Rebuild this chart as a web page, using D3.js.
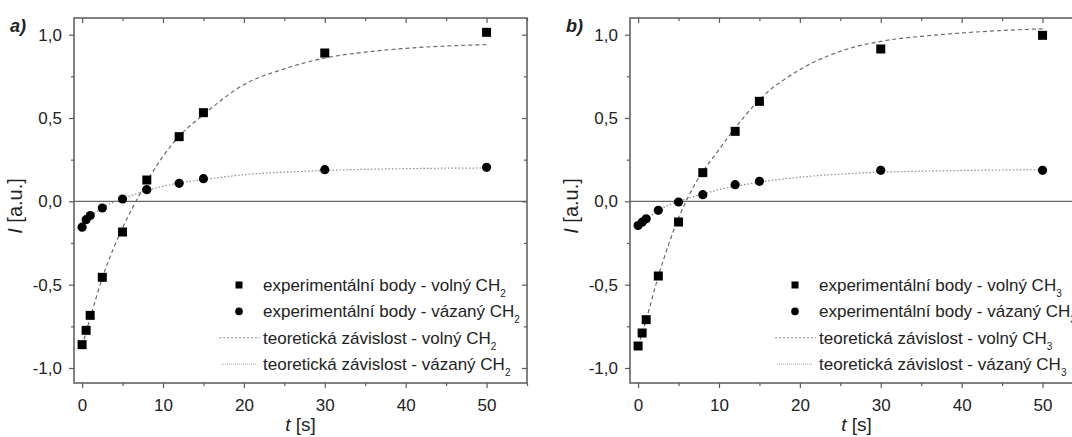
<!DOCTYPE html>
<html><head><meta charset="utf-8">
<script src="https://cdn.jsdelivr.net/npm/d3@7"></script>
<style>
html,body{margin:0;padding:0;background:#fff;}
svg text{font-family:"Liberation Sans",Arial,sans-serif;fill:#222;}
</style></head>
<body><svg id="c" width="1072" height="437"></svg>
<script>
// ---- data ----
const times = [0, 0.5, 1, 2.5, 5, 8, 12, 15, 30, 50];
const freeA  = [-0.86, -0.774, -0.684, -0.456, -0.184, 0.128, 0.388, 0.532, 0.89, 1.014];
const boundA = [-0.155, -0.11, -0.085, -0.04, 0.014, 0.07, 0.108, 0.136, 0.19, 0.204];
const freeB  = [-0.868, -0.79, -0.71, -0.448, -0.124, 0.172, 0.42, 0.60, 0.914, 0.996];
const boundB = [-0.145, -0.125, -0.105, -0.054, -0.004, 0.04, 0.10, 0.12, 0.186, 0.186];

const curveT = [0, 1, 2.5, 5, 7, 10, 12, 15, 20, 25, 30, 35, 40, 45, 50];
const theoFreeA  = [-0.87, -0.70, -0.46, -0.16, 0.03, 0.27, 0.39, 0.52, 0.70, 0.795, 0.86, 0.895, 0.918, 0.932, 0.94];
const theoBoundA = [-0.15, -0.095, -0.04, 0.015, 0.05, 0.09, 0.11, 0.13, 0.16, 0.175, 0.185, 0.192, 0.196, 0.199, 0.2];
const theoFreeB  = [-0.87, -0.71, -0.45, -0.10, 0.10, 0.31, 0.44, 0.61, 0.79, 0.90, 0.96, 0.99, 1.01, 1.025, 1.035];
const theoBoundB = [-0.15, -0.11, -0.055, 0.0, 0.03, 0.07, 0.09, 0.115, 0.145, 0.163, 0.175, 0.181, 0.185, 0.188, 0.19];

const xMajor = [0, 10, 20, 30, 40, 50];
const xMinor = [5, 15, 25, 35, 45, 55];
const yMajor = [-1, -0.5, 0, 0.5, 1];
const yMinor = [-0.75, -0.25, 0.25, 0.75];

const legendA = ["experimentální body - volný CH", "experimentální body - vázaný CH",
                 "teoretická závislost - volný CH", "teoretická závislost - vázaný CH"];
const subA = "2", subB = "3";
const panelLabels = ["a)", "b)"];

// ---- drawing ----
const svg = d3.select("#c");
const W = 453, H = 365, TOP = 18;
const axisCol = "#5a5a5a";
const fmt = v => d3.format(".1f")(v).replace(".", ",").replace("−", "-");

function panel(left, label, free, bound, theoFree, theoBound, sub) {
  const g = svg.append("g").attr("transform", `translate(${left},${TOP})`);
  const x = d3.scaleLinear().domain([-1, 55]).range([0, W]);
  const y = d3.scaleLinear().domain([-1.09, 1.1]).range([H, 0]);

  // zero line
  g.append("line").attr("x1", 0).attr("x2", W).attr("y1", y(0)).attr("y2", y(0))
    .attr("stroke", "#666").attr("stroke-width", 1.3);

  // axes
  const styleAxis = sel => { sel.select(".domain").remove(); sel.selectAll("line").attr("stroke", axisCol).attr("stroke-width", 1.2); };
  const bx = g.append("g").attr("transform", `translate(0,${H})`)
    .call(d3.axisBottom(x).tickValues(xMajor).tickSize(5).tickPadding(11).tickFormat(d3.format("d")));
  styleAxis(bx); bx.selectAll("text").attr("font-size", 17).attr("fill", "#222");
  const bxm = g.append("g").attr("transform", `translate(0,${H})`)
    .call(d3.axisBottom(x).tickValues(xMinor).tickSize(3).tickFormat(""));
  styleAxis(bxm);
  const tx = g.append("g").call(d3.axisBottom(x).tickValues(xMajor).tickSize(5).tickFormat(""));
  styleAxis(tx);
  const txm = g.append("g").call(d3.axisBottom(x).tickValues(xMinor).tickSize(3).tickFormat(""));
  styleAxis(txm);

  const ly = g.append("g").call(d3.axisLeft(y).tickValues(yMajor).tickSize(5).tickPadding(7).tickFormat(fmt));
  styleAxis(ly); ly.selectAll("text").attr("font-size", 17).attr("fill", "#222");
  const lym = g.append("g").call(d3.axisLeft(y).tickValues(yMinor).tickSize(3).tickFormat(""));
  styleAxis(lym);
  const ry = g.append("g").attr("transform", `translate(${W},0)`).call(d3.axisLeft(y).tickValues(yMajor).tickSize(5).tickFormat(""));
  styleAxis(ry);
  const rym = g.append("g").attr("transform", `translate(${W},0)`).call(d3.axisLeft(y).tickValues(yMinor).tickSize(3).tickFormat(""));
  styleAxis(rym);

  // frame
  g.append("rect").attr("width", W).attr("height", H).attr("fill", "none")
    .attr("stroke", axisCol).attr("stroke-width", 1.5);

  // theory curves
  const line = d3.line().x((d, i) => x(curveT[i])).y(d => y(d)).curve(d3.curveMonotoneX);
  g.append("path").attr("d", line(theoFree)).attr("fill", "none")
    .attr("stroke", "#6a6a6a").attr("stroke-width", 1.2).attr("stroke-dasharray", "4,3");
  g.append("path").attr("d", line(theoBound)).attr("fill", "none")
    .attr("stroke", "#8a8a8a").attr("stroke-width", 1.2).attr("stroke-dasharray", "1.5,2");

  // points
  const s = 9;
  g.selectAll(".sq").data(free).join("rect")
    .attr("x", (d, i) => x(times[i]) - s / 2).attr("y", d => y(d) - s / 2)
    .attr("width", s).attr("height", s).attr("fill", "#000");
  g.selectAll(".ci").data(bound).join("circle")
    .attr("cx", (d, i) => x(times[i])).attr("cy", d => y(d)).attr("r", 4.6).attr("fill", "#000");

  // axis titles
  const xt = g.append("text").attr("x", W / 2).attr("y", H + 48).attr("text-anchor", "middle").attr("font-size", 19);
  xt.append("tspan").attr("font-style", "italic").text("t");
  xt.append("tspan").text(" [s]");
  const yt = g.append("text").attr("transform", `translate(${-52},${188}) rotate(-90)`)
    .attr("text-anchor", "middle").attr("font-size", 20);
  yt.append("tspan").attr("font-style", "italic").text("I");
  yt.append("tspan").text(" [a.u.]");

  // panel label
  g.append("text").attr("x", -64).attr("y", 14).attr("font-size", 18)
    .attr("font-weight", "bold").attr("font-style", "italic").text(label);

  // legend
  const mx = 165, tx0 = 189, ly0 = 267, step = 26.4;
  legendA.forEach((t, i) => {
    const yy = ly0 + i * step;
    if (i === 0) g.append("rect").attr("x", mx - 3.5).attr("y", yy - 3.5).attr("width", 7).attr("height", 7).attr("fill", "#000");
    if (i === 1) g.append("circle").attr("cx", mx).attr("cy", yy).attr("r", 3.8).attr("fill", "#000");
    if (i === 2) g.append("line").attr("x1", mx - 20).attr("x2", mx + 21).attr("y1", yy).attr("y2", yy)
      .attr("stroke", "#999").attr("stroke-width", 1.1).attr("stroke-dasharray", "2.5,1.5");
    if (i === 3) g.append("line").attr("x1", mx - 18).attr("x2", mx + 18).attr("y1", yy).attr("y2", yy)
      .attr("stroke", "#aaa").attr("stroke-width", 1.1).attr("stroke-dasharray", "1,1");
    const tt = g.append("text").attr("x", tx0).attr("y", yy + 6).attr("font-size", 17);
    tt.append("tspan").text(t);
    tt.append("tspan").attr("font-size", 10).attr("dy", 6).text(sub);
  });
}

panel(74, panelLabels[0], freeA, boundA, theoFreeA, theoBoundA, subA);
panel(630, panelLabels[1], freeB, boundB, theoFreeB, theoBoundB, subB);
</script></body></html>
